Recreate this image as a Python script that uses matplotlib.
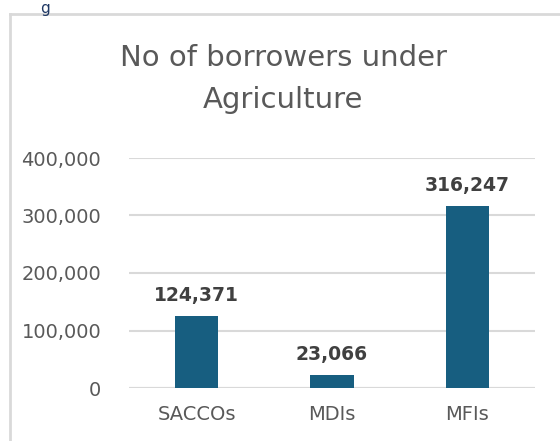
import matplotlib
matplotlib.use("Agg")
import matplotlib.pyplot as plt
from matplotlib.lines import Line2D

categories = ["SACCOs", "MDIs", "MFIs"]
borrowers = [124371, 23066, 316247]
yticks = [0, 100000, 200000, 300000, 400000]

bar_color = "#175e80"
text_gray = "#595959"

fig = plt.figure(figsize=(5.6, 4.41), dpi=100)
ax = fig.add_axes([129/560, 1-388/441, 406/560, 230/441])

x = range(len(categories))
bars = ax.bar(x, borrowers, width=0.32, color=bar_color, zorder=3)
for b, v in zip(bars, borrowers):
    ax.annotate(f"{v:,}", (b.get_x() + b.get_width()/2, v), xytext=(0, 8),
                textcoords="offset points", ha="center", va="bottom",
                fontsize=13.5, fontweight="bold", color="#404040")

ax.set_xlim(-0.5, 2.5)
ax.set_ylim(0, 400000)
ax.set_yticks(yticks)
ax.set_yticklabels([f"{t:,}" for t in yticks])
ax.set_xticks(list(x))
ax.set_xticklabels(categories)
ax.tick_params(axis="both", length=0, labelsize=14, colors=text_gray)
ax.tick_params(axis="y", pad=20)
ax.tick_params(axis="x", pad=12)
ax.grid(axis="y", color="#d9d9d9", linewidth=1.5, zorder=0)
for s in ax.spines.values():
    s.set_visible(False)
ax.axhline(0, color="#d9d9d9", linewidth=1.5, zorder=1)

fig.text(283/560, 1-79/441, "No of borrowers under\nAgriculture", ha="center", va="center",
         fontsize=21, color=text_gray, linespacing=1.6)

# frame of the chart box
fig.add_artist(Line2D([10/560, 1], [1-14/441, 1-14/441], color="#d9d9d9", linewidth=2))
fig.add_artist(Line2D([10/560, 10/560], [0, 1-14/441], color="#d9d9d9", linewidth=2))

# letter from the slide title above the chart box
fig.text(40/560, 1-1/441, "g", ha="left", va="top", fontsize=11, color="#1f3864")

fig.savefig("out.png", dpi=100)
